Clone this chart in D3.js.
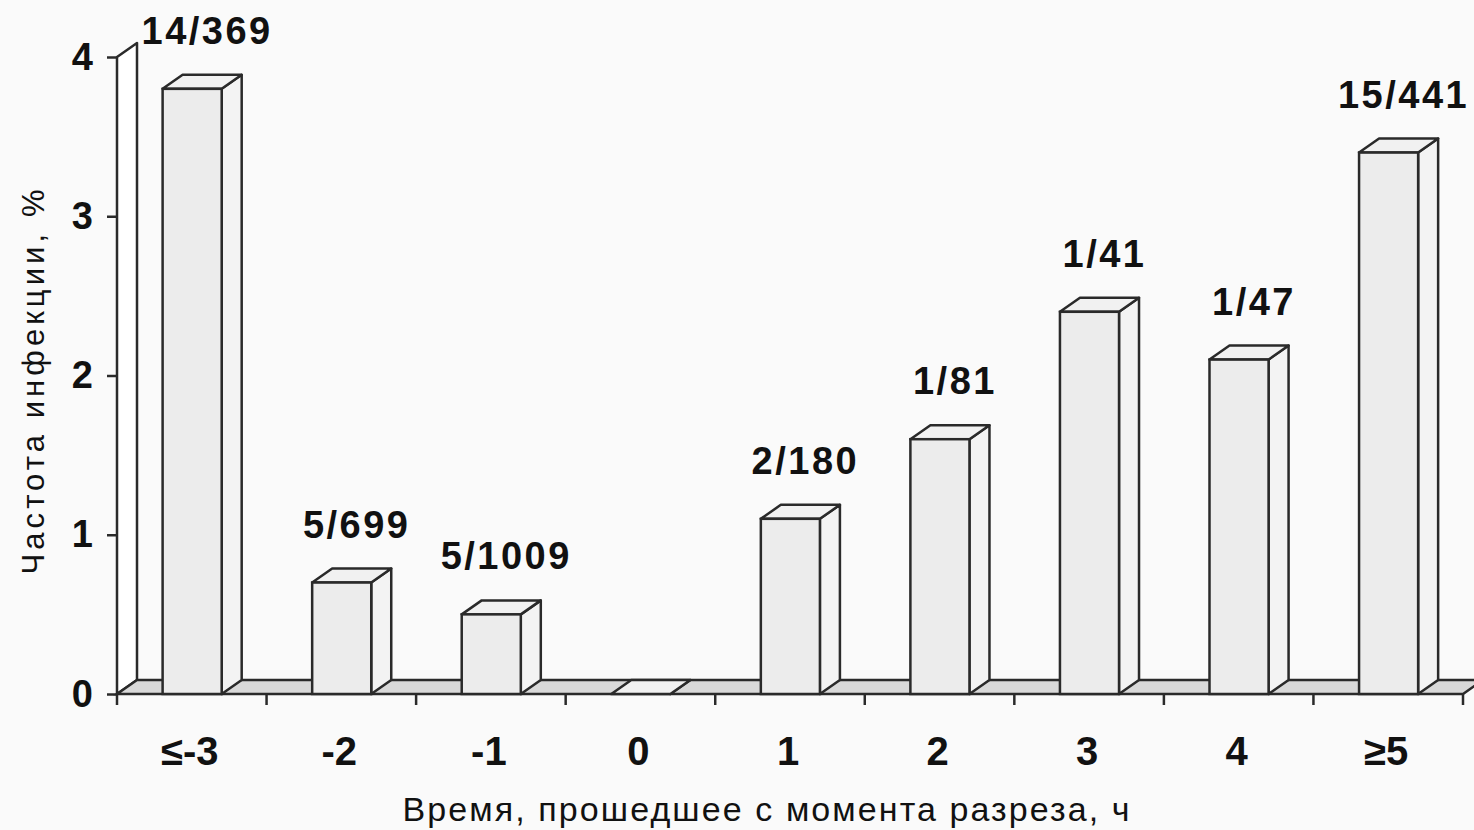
<!DOCTYPE html>
<html><head><meta charset="utf-8">
<script src="https://cdn.jsdelivr.net/npm/d3@7"></script>
<style>
html,body{margin:0;padding:0;background:#fafafa;}
svg{display:block;}
</style></head>
<body>
<svg id="chart" width="1474" height="830"></svg>
<script>
const categories = ["≤-3","-2","-1","0","1","2","3","4","≥5"];
const values = [3.8,0.7,0.5,0,1.1,1.6,2.4,2.1,3.4];
const barLabels = ["14/369","5/699","5/1009","","2/180","1/81","1/41","1/47","15/441"];
const yTicks = [0,1,2,3,4];
const yTitle = "Частота инфекции, %";
const xTitle = "Время, прошедшее с момента разреза, ч";

const W = 1474, H = 830;
const svg = d3.select("#chart");
svg.append("rect").attr("width",W).attr("height",H).attr("fill","#fafafa");

const x = d3.scaleBand().domain(categories).range([117,1463]).paddingInner(0).paddingOuter(0);
const y = d3.scaleLinear().domain([0,4]).range([694,57]);
const DX = 20, DY = -14;
const stroke = "#2a2a2a", sw = 2.5;
const bw = x.bandwidth();
const barOff = bw*0.305, barW = bw*0.395;
const font = "'Liberation Sans',Arial,sans-serif";

// left wall
const x0 = x.range()[0], x1 = x.range()[1];
svg.append("polygon")
  .attr("points", [[x0,y(0)],[x0,y(4)],[x0+DX,y(4)+DY],[x0+DX,y(0)+DY]].map(p=>p.join(",")).join(" "))
  .attr("fill","#ffffff").attr("stroke",stroke).attr("stroke-width",sw).attr("stroke-linejoin","round");

// floor
svg.append("polygon")
  .attr("points", [[x0,y(0)],[x1,y(0)],[x1+DX,y(0)+DY],[x0+DX,y(0)+DY]].map(p=>p.join(",")).join(" "))
  .attr("fill","#d9d9d9").attr("stroke",stroke).attr("stroke-width",sw);

// y ticks
const yAxis = d3.axisLeft(y).tickValues(yTicks).tickSize(10).tickPadding(14).tickFormat(d3.format("d"));
const ya = svg.append("g").attr("transform",`translate(${x0},0)`).call(yAxis);
ya.select(".domain").remove();
ya.selectAll(".tick line").attr("stroke",stroke).attr("stroke-width",sw);
ya.selectAll(".tick text").attr("font-family",font)
  .attr("font-weight","bold").attr("font-size",38).attr("fill","#111");

// x ticks at band boundaries
const bounds = categories.map(c=>x(c)).concat([x1]);
svg.append("g").selectAll("line").data(bounds).join("line")
  .attr("x1",d=>d).attr("x2",d=>d).attr("y1",y(0)).attr("y2",y(0)+11)
  .attr("stroke",stroke).attr("stroke-width",sw);

// x labels
svg.append("g").selectAll("text").data(categories).join("text")
  .attr("x",d=>x(d)+bw/2 - 2).attr("y",765)
  .attr("text-anchor","middle")
  .attr("font-family",font).attr("font-weight","bold")
  .attr("font-size",40).attr("fill","#111").text(d=>d);

// bars
const data = categories.map((c,i)=>({c, v: values[i], label: barLabels[i]}));
const bars = svg.append("g").selectAll("g").data(data).join("g");
bars.each(function(d){
  const g = d3.select(this);
  const L = x(d.c)+barOff, R = L+barW, T = y(d.v), B = y(0);
  g.append("polygon").attr("points",[[R,B],[R,T],[R+DX,T+DY],[R+DX,B+DY]].map(p=>p.join(",")).join(" "))
    .attr("fill","#f3f3f3").attr("stroke",stroke).attr("stroke-width",sw).attr("stroke-linejoin","round");
  g.append("polygon").attr("points",[[L,T],[R,T],[R+DX,T+DY],[L+DX,T+DY]].map(p=>p.join(",")).join(" "))
    .attr("fill","#f1f1f1").attr("stroke",stroke).attr("stroke-width",sw).attr("stroke-linejoin","round");
  g.append("rect").attr("x",L).attr("y",T).attr("width",barW).attr("height",B-T)
    .attr("fill","#ececec").attr("stroke",stroke).attr("stroke-width",sw);
  if(d.label){
    g.append("text").attr("x",L+barW/2+15).attr("y",T+DY-31)
      .attr("text-anchor","middle")
      .attr("font-family",font).attr("font-weight","bold")
      .attr("font-size",38).attr("letter-spacing",2.5).attr("fill","#111").text(d.label);
  }
});

// axis titles
svg.append("text").attr("transform","translate(44,382) rotate(-90)")
  .attr("text-anchor","middle")
  .attr("font-family",font).attr("font-size",31).attr("fill","#111")
  .attr("textLength",385).attr("lengthAdjust","spacing").text(yTitle);
svg.append("text").attr("x",766).attr("y",821)
  .attr("text-anchor","middle")
  .attr("font-family",font).attr("font-size",34).attr("fill","#111")
  .attr("textLength",727).attr("lengthAdjust","spacing").text(xTitle);
</script>
</body></html>
